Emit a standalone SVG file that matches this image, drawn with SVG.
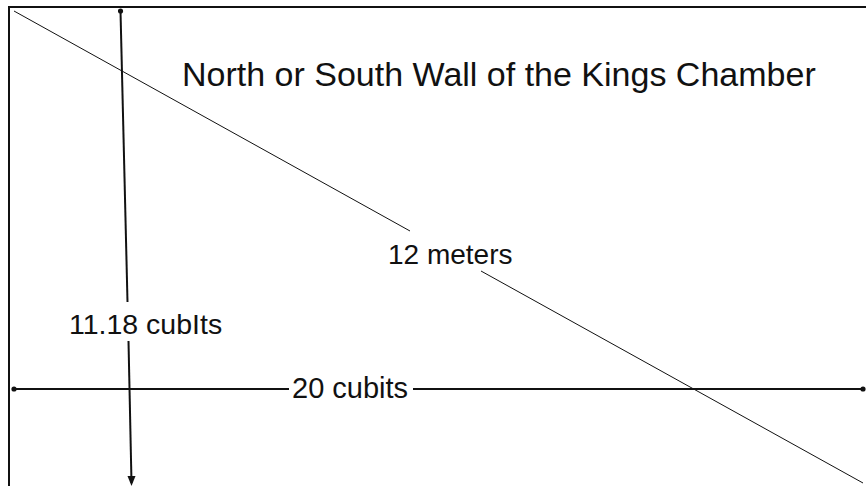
<svg xmlns="http://www.w3.org/2000/svg" width="866" height="486" viewBox="0 0 866 486">
<style>
.t{font-family:"Liberation Sans",Arial,Helvetica,sans-serif;fill:#111}
.ln{stroke:#111;fill:none}
</style>
<defs>
<marker id="dot" markerWidth="6" markerHeight="6" refX="3" refY="3" markerUnits="userSpaceOnUse"><circle cx="3" cy="3" r="2.6" fill="#111"/></marker>
</defs>
<rect width="866" height="486" fill="#fff"/>
<g id="wall">
<path class="ln" stroke-width="2" d="M9,486 V7 H866"/>
</g>
<g id="connectors">
<path class="ln" stroke-width="1" d="M14,11 L410,231"/>
<path class="ln" stroke-width="1" d="M481,271 L863,483"/>
<path class="ln" stroke-width="2.2" d="M14,389 H289" marker-start="url(#dot)"/>
<path class="ln" stroke-width="2.2" d="M413,389 H863" marker-end="url(#dot)"/>
<path class="ln" stroke-width="2" d="M120.5,11 L127.5,302" marker-start="url(#dot)"/>
<path class="ln" stroke-width="2" d="M128.5,341 L131.5,483"/>
<path d="M127.5,476 L131.5,486 L135.5,476 Z" fill="#111"/>
</g>
<g id="title"><text class="t" x="182" y="86" font-size="34">North or South Wall of the Kings Chamber</text></g>
<g id="diag-label"><text class="t" x="388" y="264" font-size="28">12 meters</text></g>
<g id="vert-label"><text class="t" x="69" y="334" font-size="28.5">11.18 cubIts</text></g>
<g id="horiz-label"><text class="t" x="292" y="398" font-size="29">20 cubits</text></g>
</svg>
